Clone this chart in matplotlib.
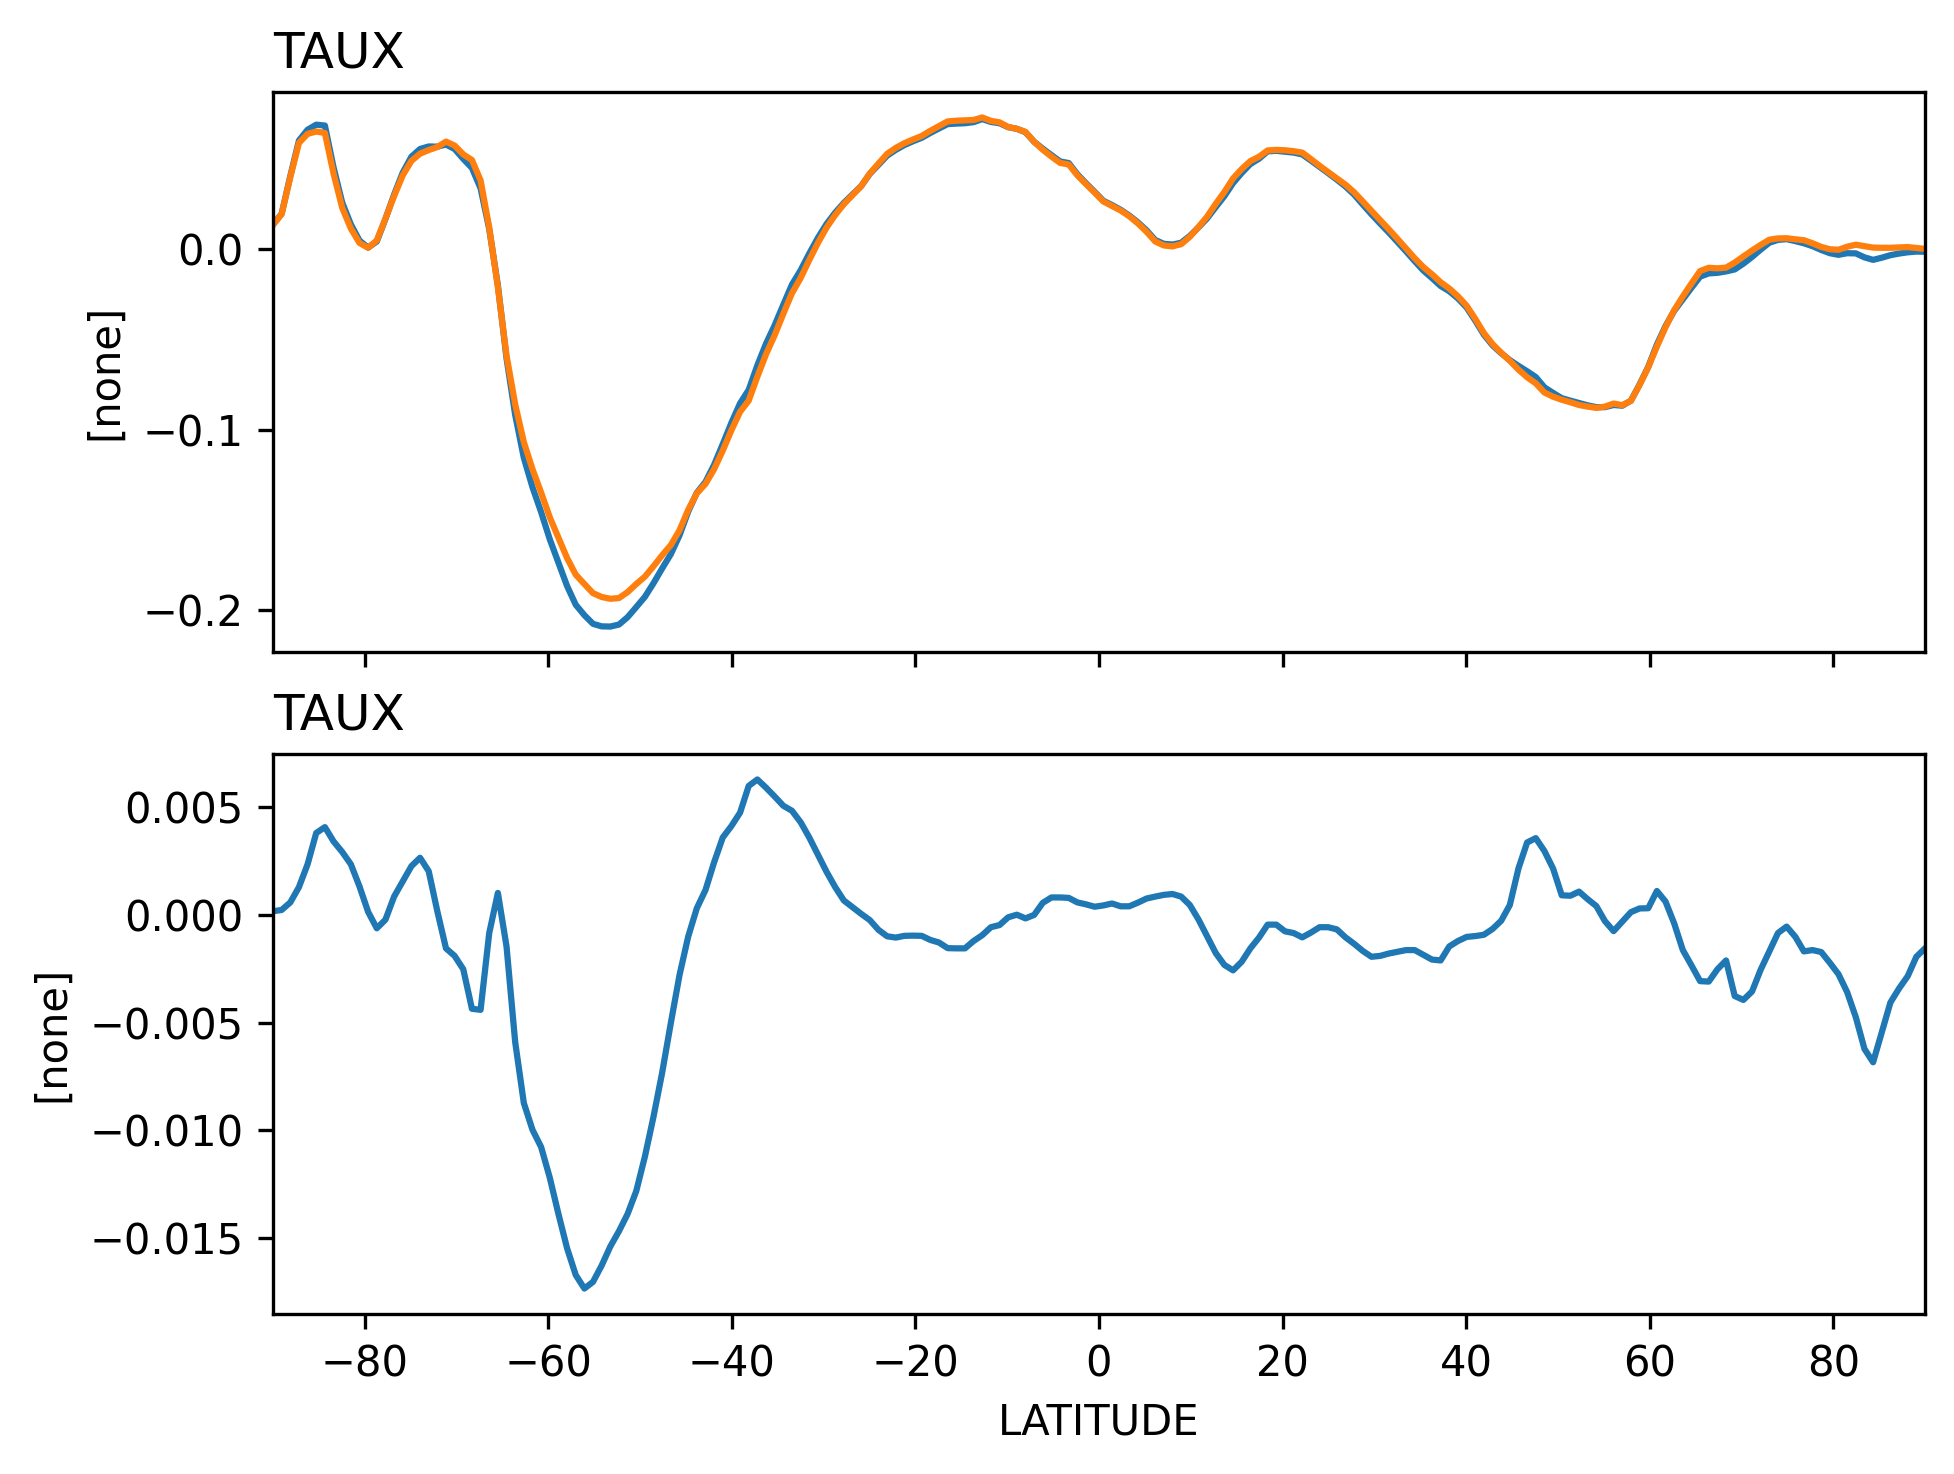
import numpy as np
import matplotlib
matplotlib.use("Agg")
import matplotlib.pyplot as plt

# latitude grid (192 points, -90..90)
lat = np.linspace(-90.0, 90.0, 192)

# values in units of 1e-3
blue_milli = [
    13.7, 19.7, 40.6, 60.3, 66.3, 69.1, 68.6, 45.4, 25.9, 13.8,
    4.8, 0.9, 4.3, 16.8, 30.3, 42.5, 51.3, 55.6, 57.0, 56.9,
    58.1, 55.6, 50.1, 45.1, 33.8, 11.2, -20.0, -60.5, -91.9, -115.7,
    -132.0, -145.8, -160.9, -173.9, -186.8, -197.2, -203.0, -207.8, -209.2, -209.3,
    -208.2, -204.1, -198.5, -192.8, -185.2, -177.0, -169.1, -158.7, -145.6, -135.1,
    -129.1, -119.6, -108.1, -96.3, -85.5, -78.0, -64.4, -52.4, -42.2, -30.8,
    -19.6, -11.7, -2.4, 6.3, 14.0, 20.3, 25.7, 30.4, 35.0, 41.8,
    46.8, 51.9, 55.1, 57.8, 59.9, 61.8, 64.5, 67.0, 69.4, 69.7,
    69.9, 70.5, 72.2, 70.6, 69.9, 67.7, 66.8, 64.9, 59.6, 55.8,
    52.2, 48.7, 47.8, 41.6, 36.6, 31.8, 26.9, 24.5, 21.9, 18.7,
    14.9, 10.5, 5.1, 3.0, 2.6, 3.6, 7.4, 12.1, 17.1, 23.4,
    29.5, 36.7, 42.3, 47.3, 50.2, 54.3, 54.6, 54.1, 53.6, 52.6,
    49.2, 45.7, 42.2, 38.6, 34.8, 30.3, 24.8, 19.4, 14.3, 9.3,
    4.1, -1.2, -6.6, -11.8, -16.0, -20.4, -23.3, -27.3, -32.3, -39.6,
    -47.4, -53.3, -57.7, -61.5, -64.7, -67.7, -70.9, -76.6, -79.7, -82.6,
    -84.0, -85.3, -86.6, -87.6, -87.6, -86.4, -86.8, -84.0, -75.0, -65.2,
    -52.9, -42.6, -34.2, -27.8, -21.4, -15.2, -13.4, -13.1, -12.3, -11.2,
    -8.0, -4.3, -0.2, 3.6, 5.2, 5.6, 4.5, 3.3, 1.7, -0.4,
    -2.2, -3.1, -2.2, -2.3, -4.5, -5.9, -4.7, -3.3, -2.4, -1.7,
    -1.3, -1.4,
]

orange_milli = [
    13.5, 19.5, 40.0, 59.0, 64.0, 65.3, 64.5, 42.0, 23.0, 11.5,
    3.5, 0.8, 4.9, 17.0, 29.5, 41.0, 49.0, 53.0, 55.0, 56.7,
    59.7, 57.5, 52.6, 49.5, 38.2, 12.0, -21.0, -59.0, -86.0, -107.0,
    -122.0, -135.0, -148.7, -160.0, -171.3, -180.5, -185.7, -190.8, -192.9, -193.9,
    -193.5, -190.2, -185.7, -181.6, -175.8, -169.7, -164.1, -155.9, -144.6, -135.4,
    -130.2, -122.0, -111.7, -100.4, -90.2, -84.0, -70.7, -58.3, -47.7, -35.8,
    -24.4, -16.0, -6.0, 3.5, 12.0, 19.0, 25.0, 30.0, 35.0, 42.0,
    47.5, 52.9, 56.2, 58.8, 60.9, 62.8, 65.7, 68.3, 70.9, 71.3,
    71.5, 71.7, 73.1, 71.2, 70.4, 67.8, 66.8, 65.1, 59.6, 55.2,
    51.4, 47.9, 47.0, 41.0, 36.1, 31.4, 26.5, 24.0, 21.5, 18.3,
    14.3, 9.7, 4.3, 2.1, 1.6, 2.8, 6.9, 12.3, 18.1, 25.2,
    31.8, 39.3, 44.5, 48.9, 51.3, 54.8, 55.1, 54.9, 54.4, 53.6,
    50.0, 46.3, 42.8, 39.3, 35.8, 31.6, 26.5, 21.3, 16.2, 11.1,
    5.8, 0.4, -5.0, -9.9, -13.9, -18.3, -21.8, -26.1, -31.3, -38.6,
    -46.5, -52.6, -57.4, -61.9, -66.8, -71.0, -74.4, -79.5, -81.8, -83.5,
    -84.9, -86.4, -87.3, -88.0, -87.3, -85.6, -86.5, -84.1, -75.3, -65.5,
    -54.0, -43.2, -33.8, -26.2, -19.0, -12.1, -10.3, -10.6, -10.2, -7.4,
    -4.0, -0.7, 2.4, 5.3, 6.0, 6.1, 5.5, 5.0, 3.3, 1.3,
    0.0, -0.3, 1.4, 2.5, 1.7, 0.9, 0.8, 0.8, 1.0, 1.2,
    0.7, 0.2,
]

diff_milli = [
    0.16, 0.22, 0.57, 1.28, 2.34, 3.79, 4.06, 3.40, 2.91, 2.34,
    1.31, 0.13, -0.63, -0.23, 0.84, 1.54, 2.25, 2.64, 2.02, 0.16,
    -1.56, -1.91, -2.53, -4.36, -4.41, -0.85, 1.01, -1.47, -5.90, -8.73,
    -9.97, -10.77, -12.19, -13.87, -15.46, -16.70, -17.33, -17.02, -16.26, -15.38,
    -14.67, -13.87, -12.81, -11.21, -9.35, -7.31, -5.01, -2.80, -1.02, 0.30,
    1.14, 2.43, 3.58, 4.11, 4.73, 5.97, 6.27, 5.89, 5.48, 5.05,
    4.82, 4.29, 3.58, 2.78, 1.99, 1.28, 0.66, 0.35, 0.04, -0.25,
    -0.70, -1.00, -1.06, -0.98, -0.97, -0.98, -1.17, -1.29, -1.55, -1.56,
    -1.56, -1.22, -0.95, -0.58, -0.48, -0.12, 0.00, -0.17, -0.01, 0.55,
    0.80, 0.80, 0.78, 0.57, 0.48, 0.37, 0.43, 0.52, 0.39, 0.39,
    0.56, 0.75, 0.84, 0.92, 0.96, 0.84, 0.45, -0.22, -1.0, -1.78,
    -2.33, -2.58, -2.18, -1.56, -1.06, -0.46, -0.46, -0.77, -0.85, -1.05,
    -0.83, -0.58, -0.58, -0.68, -1.05, -1.35, -1.68, -1.95, -1.91, -1.80,
    -1.72, -1.64, -1.64, -1.86, -2.08, -2.12, -1.47, -1.22, -1.03, -0.99,
    -0.93, -0.66, -0.28, 0.45, 2.15, 3.35, 3.55, 2.95, 2.14, 0.9,
    0.88, 1.07, 0.72, 0.40, -0.30, -0.76, -0.32, 0.12, 0.29, 0.30,
    1.10, 0.61, -0.40, -1.64, -2.35, -3.08, -3.10, -2.53, -2.12, -3.77,
    -3.95, -3.56, -2.55, -1.70, -0.85, -0.55, -1.02, -1.70, -1.64, -1.73,
    -2.23, -2.76, -3.59, -4.75, -6.22, -6.84, -5.45, -4.07, -3.42, -2.85,
    -1.95, -1.56,
]

title_text = "TAUX"
ylabel_text = "[none]"
xlabel_text = "LATITUDE"

W, H = 1954, 1474
fig = plt.figure(figsize=(W / 300, H / 300), dpi=300)
left = 273 / W
width = (1925 - 273) / W
ax_h = 560 / H
ax1 = fig.add_axes([left, 1 - 652 / H, width, ax_h])
ax2 = fig.add_axes([left, 1 - 1314 / H, width, ax_h], sharex=ax1)

scale = 1e-3
ax1.plot(lat, np.array(blue_milli) * scale, color="#1f77b4")
ax1.plot(lat, np.array(orange_milli) * scale, color="#ff7f0e")
ax1.set_title(title_text, loc="left")
ax1.set_ylabel(ylabel_text)
ax1.tick_params(labelbottom=False)

ax2.plot(lat, np.array(diff_milli) * scale, color="#1f77b4")
ax2.set_title(title_text, loc="left")
ax2.set_ylabel(ylabel_text)
ax2.set_xlabel(xlabel_text)
ax2.set_xlim(-90, 90)

fig.savefig("out.png", dpi=300)
